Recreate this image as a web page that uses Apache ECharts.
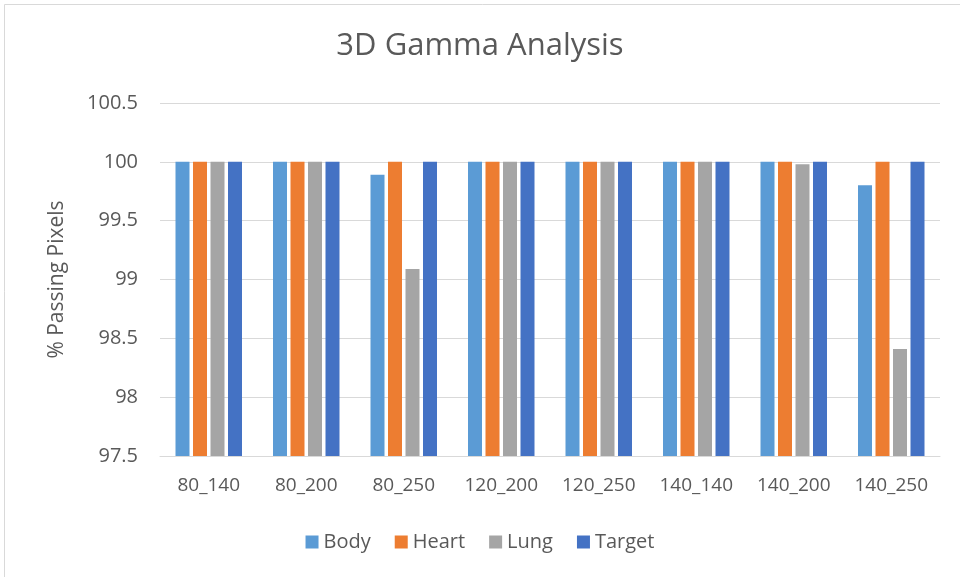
<!DOCTYPE html>
<html>
<head>
<meta charset="utf-8">
<script src="https://cdn.jsdelivr.net/npm/echarts@6/dist/echarts.min.js"></script>
<style>
  html, body { margin: 0; padding: 0; background: #fff; }
  #main { width: 960px; height: 577px; }
</style>
</head>
<body>
<div id="main"></div>
<script>
var categories = ["80_140", "80_200", "80_250", "120_200", "120_250", "140_140", "140_200", "140_250"];
var body = [100, 100, 99.89, 100, 100, 100, 100, 99.8];
var heart = [100, 100, 100, 100, 100, 100, 100, 100];
var lung = [100, 100, 99.09, 100, 100, 100, 99.98, 98.41];
var target = [100, 100, 100, 100, 100, 100, 100, 100];
var seriesNames = ["Body", "Heart", "Lung", "Target"];
var colors = ["#5B9BD5", "#ED7D31", "#A5A5A5", "#4472C4"];

var myChart = echarts.init(document.getElementById("main"));
var font = "'Open Sans', 'Noto Sans', sans-serif";
var allData = [body, heart, lung, target];

var option = {
  color: colors,
  textStyle: { fontFamily: font },
  title: {
    text: "3D Gamma Analysis",
    left: "center",
    top: 26,
    textStyle: { fontSize: 31, fontWeight: "normal", color: "#595959", fontFamily: font }
  },
  graphic: [{
    type: "rect",
    shape: { x: 4.5, y: 4.5, width: 970, height: 600 },
    style: { fill: null, stroke: "#d9d9d9", lineWidth: 1 },
    silent: true
  }],
  legend: {
    data: seriesNames,
    bottom: 20,
    left: "center",
    itemWidth: 13,
    itemHeight: 13,
    itemGap: 24,
    icon: "rect",
    textStyle: { fontSize: 20, color: "#595959", fontFamily: font }
  },
  grid: { left: 160, right: 20, top: 103, bottom: 121 },
  xAxis: {
    type: "category",
    data: categories,
    axisLine: { show: true, lineStyle: { color: "#d9d9d9" } },
    axisTick: { show: false },
    axisLabel: { interval: 0, fontSize: 19, color: "#595959", margin: 20, fontFamily: font }
  },
  yAxis: {
    type: "value",
    min: 97.5,
    max: 100.5,
    interval: 0.5,
    name: "% Passing Pixels",
    nameLocation: "middle",
    nameGap: 92,
    nameTextStyle: { fontSize: 21, color: "#595959", fontFamily: font },
    axisLine: { show: false },
    axisTick: { show: false },
    axisLabel: { fontSize: 20, color: "#595959", margin: 22, fontFamily: font },
    splitLine: { lineStyle: { color: "#d9d9d9", width: 1 } }
  },
  series: seriesNames.map(function(name, i) {
    return {
      name: name,
      type: "bar",
      barWidth: 14,
      barGap: "25%",
      data: allData[i]
    };
  })
};
myChart.setOption(option);
</script>
</body>
</html>
